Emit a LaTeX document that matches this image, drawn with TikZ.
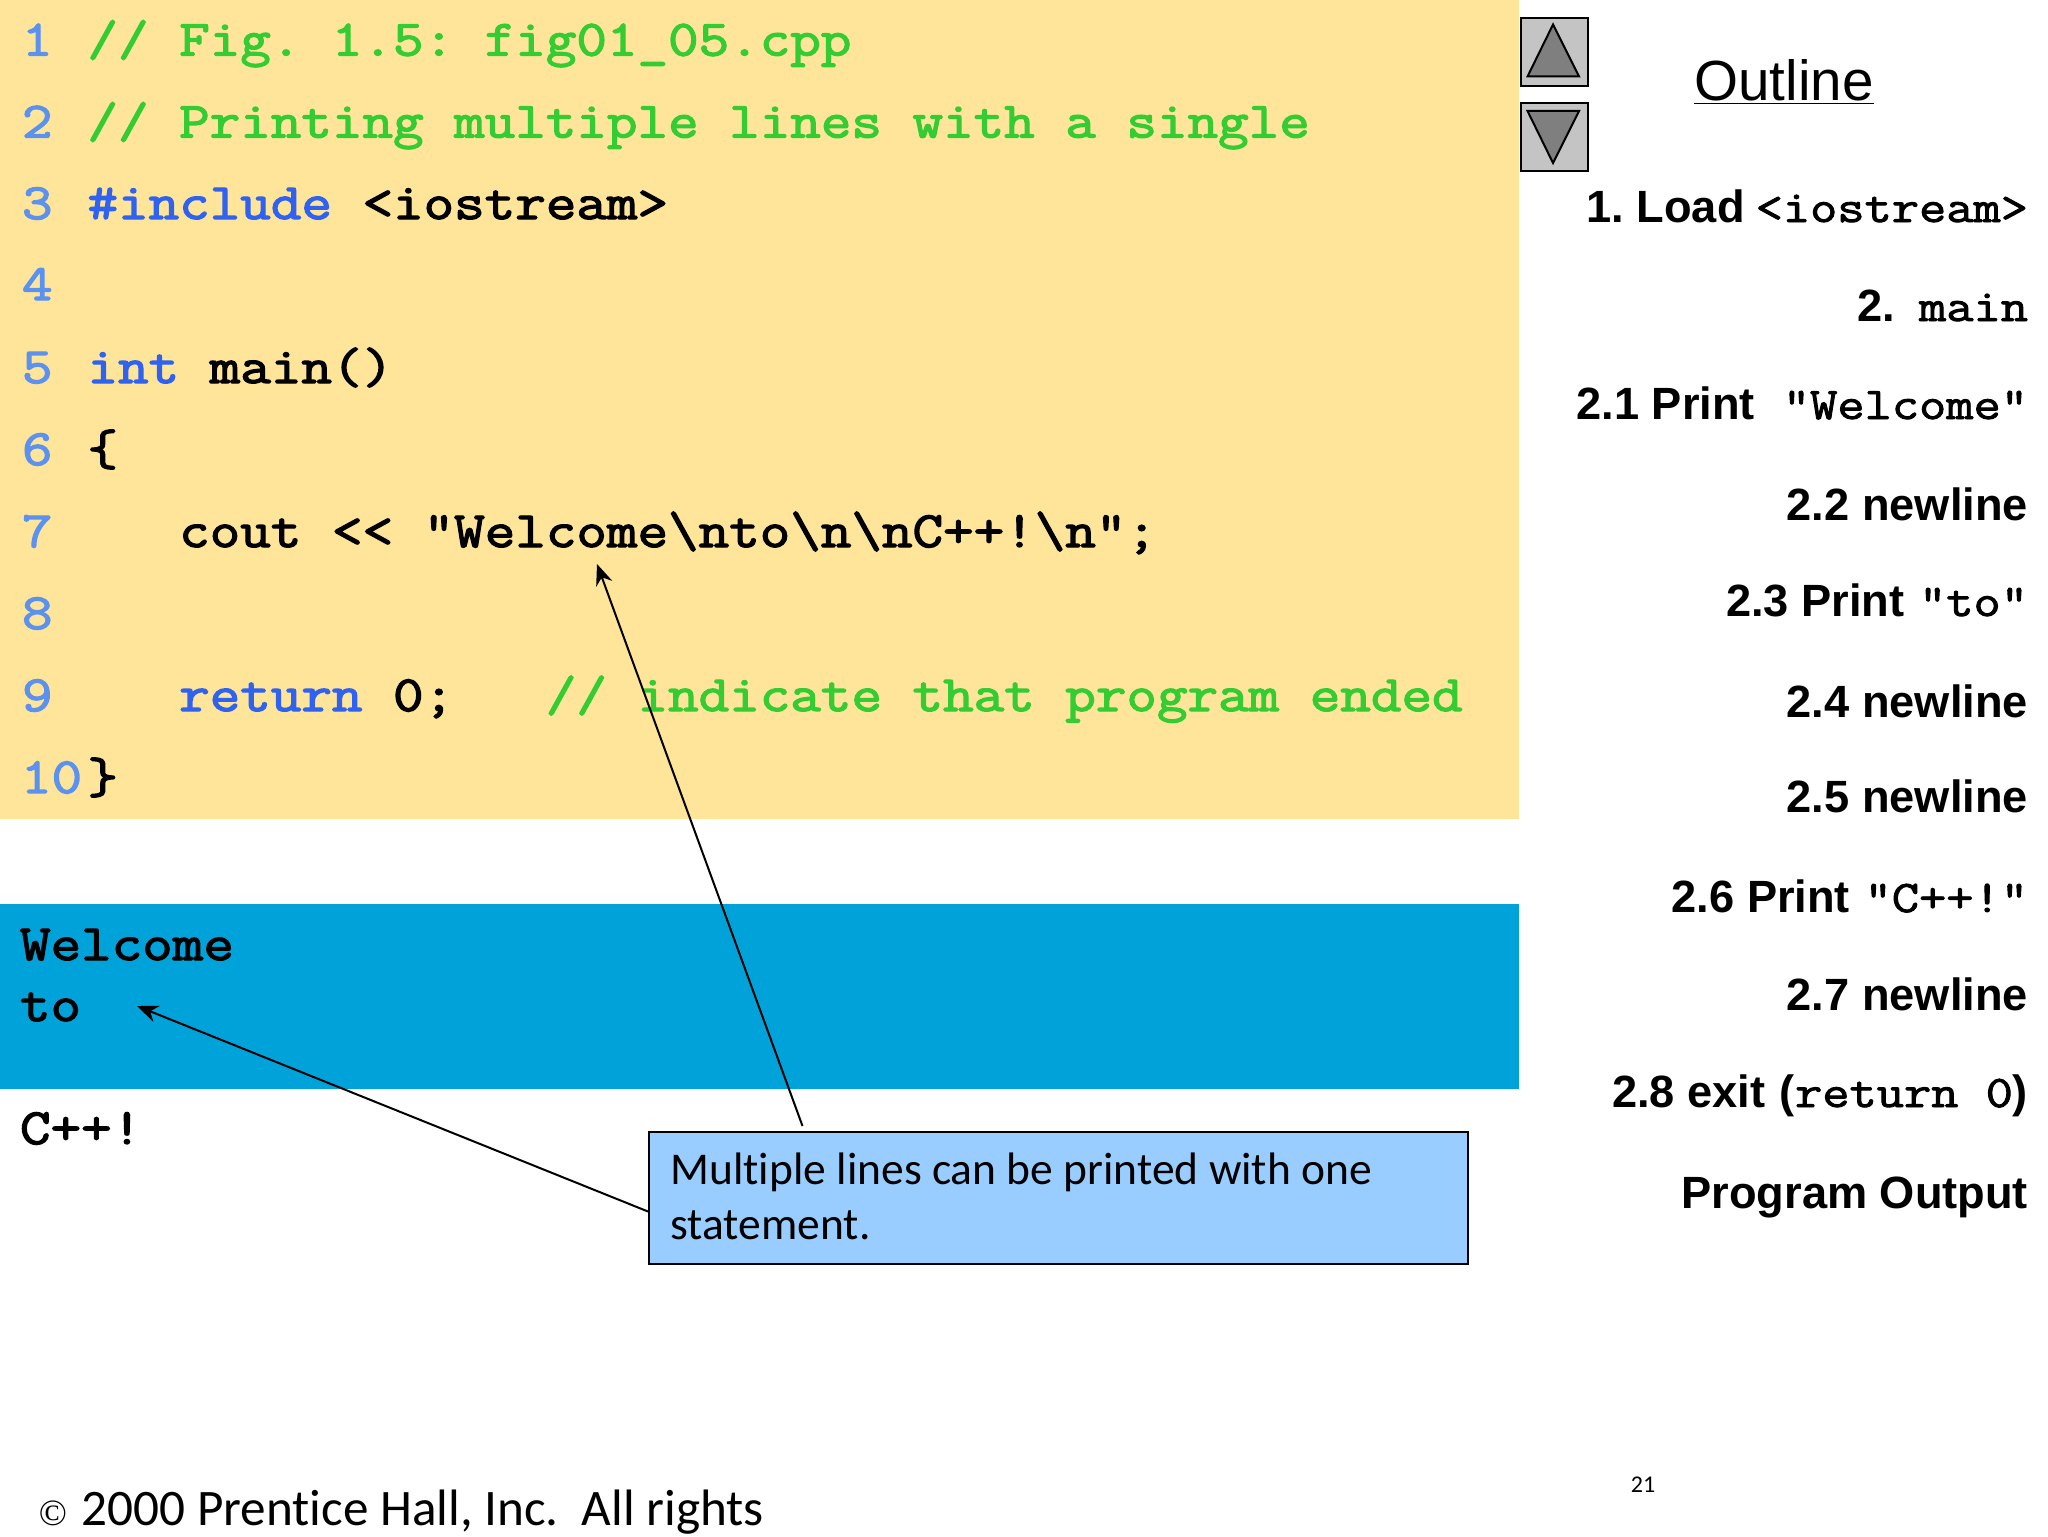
\documentclass[tikz,border=0pt]{standalone}
\usepackage{fontspec}
\setmainfont{Liberation Sans}
\newfontfamily\calib[Ligatures=NoCommon]{Carlito}
\newfontfamily\timesf{Liberation Serif}
\newfontfamily\codef[FakeStretch=1.168,FakeBold=2.6,Ligatures=NoCommon]{Latin Modern Mono}
\newfontfamily\outf[FakeStretch=1.17,FakeBold=2,Ligatures=NoCommon]{Latin Modern Mono}
\usetikzlibrary{arrows.meta}
\frenchspacing
\definecolor{yellowbg}{HTML}{FFE599}
\definecolor{bluebg}{HTML}{00A3D9}
\definecolor{calloutbg}{HTML}{99CCFF}
\definecolor{cmt}{HTML}{33CC33}
\definecolor{kw}{HTML}{2F62F0}
\definecolor{lnum}{HTML}{5B92F0}
\definecolor{btn}{HTML}{C4C4C4}
\definecolor{tri}{HTML}{7F7F7F}
\newcommand{\cc}[1]{{\codef\fontsize{25.4}{30}\selectfont #1}}
\newcommand{\oc}[1]{{\outf\fontsize{22.6}{27}\selectfont #1}}
\tikzset{
  txt/.style={anchor=base west,inner sep=0pt,outer sep=0pt},
  lnumber/.style={txt,text=lnum},
  outl/.style={anchor=base east,inner sep=0pt,outer sep=0pt,font=\fontsize{22.6}{27}\selectfont\bfseries},
  callbox/.style={draw=black,line width=1pt,fill=calloutbg,anchor=north west,minimum width=409.5pt,minimum height=66pt,inner sep=0pt},
  callarrow/.style={line width=1pt,-{Stealth[length=10.5pt,width=8.5pt]}},
  btnbox/.style={draw=black,line width=1pt,fill=btn,minimum width=33.5pt,minimum height=33.75pt,inner sep=0pt,anchor=north west},
  tribox/.style={draw=black,line width=1pt,fill=tri,line join=miter},
}
\begin{document}
\begin{tikzpicture}[x=0.5pt,y=-0.5pt]
\useasboundingbox (0,0) rectangle (2048,1536);
\fill[yellowbg] (0,0) rectangle (1519,819);
\fill[bluebg] (0,904) rectangle (1519,1089);
% line numbers
\node[lnumber] (n1) at (22,55.5) {\cc{1}};
\node[lnumber] (n2) at (22,137.5) {\cc{2}};
\node[lnumber] (n3) at (22,219) {\cc{3}};
\node[lnumber] (n4) at (22,300) {\cc{4}};
\node[lnumber] (n5) at (22,383) {\cc{5}};
\node[lnumber] (n6) at (22,465) {\cc{6}};
\node[lnumber] (n7) at (22,547) {\cc{7}};
\node[lnumber] (n8) at (22,629) {\cc{8}};
\node[lnumber] (n9) at (22,711) {\cc{9}};
\node[lnumber] (n10) at (21,793) {\cc{10}};
% code
\node[txt] (l1) at (87.5,55.5) {\cc{\textcolor{cmt}{// Fig. 1.5: fig01\_05.cpp}}};
\node[txt] (l2) at (87.5,137.5) {\cc{\textcolor{cmt}{// Printing multiple lines with a single}}};
\node[txt] (l3) at (87.5,219) {\cc{\textcolor{kw}{\#include} <iostream>}};
\node[txt] (l5) at (87.5,383) {\cc{\textcolor{kw}{int} main()}};
\node[txt] (l6) at (87.5,465) {\cc{\{}};
\node[txt] (l7) at (87.5,547) {\cc{~~~cout <{}< "Welcome\textbackslash nto\textbackslash n\textbackslash nC++!\textbackslash n";}};
\node[txt] (l9) at (87.5,711) {\cc{~~~\textcolor{kw}{return} 0;~~~\textcolor{cmt}{// indicate that program ended}}};
\node[txt] (l10) at (87.5,793) {\cc{\}}};
% output
\node[txt] (o1) at (20,960) {\cc{Welcome}};
\node[txt] (o2) at (20,1021) {\cc{to}};
\node[txt] (o3) at (20,1144) {\cc{C++!}};
% buttons
\node[btnbox] (up) at (1520,17.5) {};
\node[btnbox] (down) at (1520,102.5) {};
\draw[tribox] (1553,24.5) -- (1527.5,76.5) -- (1579,76.5) -- cycle;
\draw[tribox] (1527.5,111) -- (1579,111) -- (1553,163) -- cycle;
% outline
\node[anchor=base,inner sep=0pt] (title) at (1784,100) {\fontsize{28.3}{32}\selectfont\underline{Outline}};
\node[outl] (s1) at (2028,222) {1. Load\hspace{5.5pt}\oc{<iostream>}};
\node[outl] (s2) at (2028,321) {2.\hspace{12pt}\oc{main}};
\node[outl] (s21) at (2028,419) {2.1 Print\hspace{14pt}\oc{"Welcome"}};
\node[outl] (s22) at (2028,520) {2.2 newline};
\node[outl] (s23) at (2028,616) {2.3 Print\hspace{7.3pt}\oc{"to"}};
\node[outl] (s24) at (2028,717) {2.4 newline};
\node[outl] (s25) at (2028,812) {2.5 newline};
\node[outl] (s26) at (2028,912) {2.6 Print\hspace{7.3pt}\oc{"C++!"}};
\node[outl] (s27) at (2028,1010) {2.7 newline};
\node[outl] (s28) at (2028,1107) {2.8 exit\hspace{7.3pt}(\oc{return~0})};
\node[outl] (s29) at (2028,1208.5) {Program Output};
% callout
\node[callbox] (callout) at (648,1130.5) {};
\node[txt,font=\calib\fontsize{22.75}{27}\selectfont] (c1) at (670.5,1184) {Multiple lines can be printed with one};
\node[txt,font=\calib\fontsize{22.75}{27}\selectfont] (c2) at (670.5,1239) {statement.};
\coordinate (a1s) at (802.5,1126);
\coordinate (a1e) at (597,564);
\coordinate (a2s) at (648,1211.5);
\coordinate (a2e) at (137,1006);
\draw[callarrow] (a1s) -- (a1e);
\draw[callarrow] (a2s) -- (a2e);
% footer
\node[txt,font=\calib\fontsize{25.6}{27}\selectfont] (foot) at (39,1525) {{\timesf\fontsize{18.5}{20}\selectfont ©}\hspace{7.3pt}2000 Prentice Hall, Inc.~~All rights};
\node[anchor=center,inner sep=0pt,font=\calib\fontsize{12}{14}\selectfont] (pg) at (1643,1485) {21};
\end{tikzpicture}
\end{document}
